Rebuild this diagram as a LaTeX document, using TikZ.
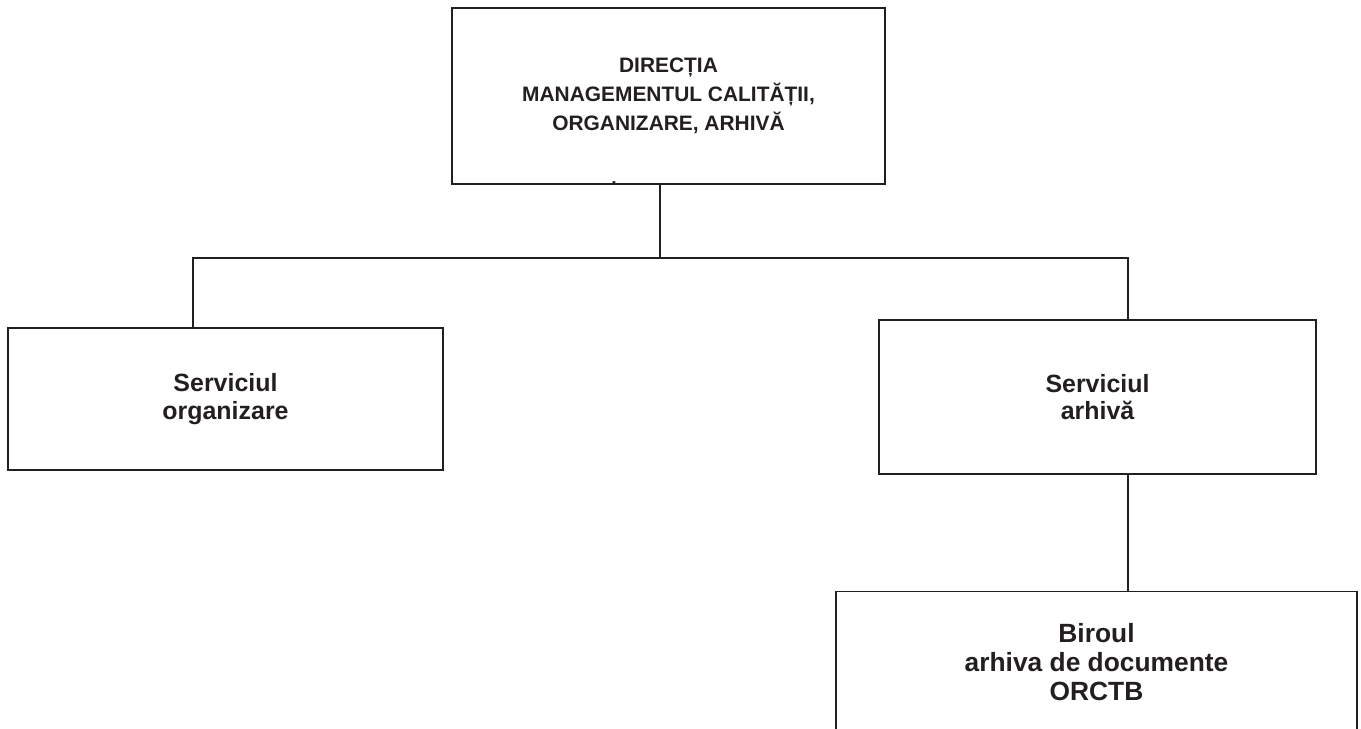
\documentclass[tikz,border=0pt]{standalone}
\usepackage{fontspec}
\setmainfont{Liberation Sans}
\usetikzlibrary{positioning}
\definecolor{lineblack}{HTML}{231F20}

\begin{document}
\begin{tikzpicture}[x=0.02cm, y=-0.02cm]
    % Styles
    \tikzstyle{unit} = [rectangle, draw=lineblack, line width=1.1pt, align=center, text=lineblack, font=\bfseries\fontsize{14.2}{15.8}\selectfont]
    \tikzstyle{link} = [draw=lineblack, line width=1.1pt]

    \clip (0,0) rectangle (1361,729);

    % Nodes - using absolute positioning
    \node[unit, minimum width=8.66cm, minimum height=3.52cm, font=\bfseries\fontsize{11.9}{16.6}\selectfont] (dir) at (668.5,96) {DIRECȚIA\\MANAGEMENTUL CALITĂȚII,\\ORGANIZARE, ARHIVĂ};
    \node[font=\bfseries\fontsize{11}{11}\selectfont, inner sep=0pt, text=lineblack] (dot) at (614,183) {.};
    \node[unit, minimum width=8.7cm, minimum height=2.84cm] (org) at (225.5,399) {Serviciul\\organizare};
    \node[unit, minimum width=8.74cm, minimum height=3.08cm] (arh) at (1097.5,397) {Serviciul\\arhivă};
    \node[unit, minimum width=10.42cm, minimum height=2.82cm, font=\bfseries\fontsize{15}{16.6}\selectfont] (bir) at (1096.5,662) {Biroul\\arhiva de documente\\ORCTB};

    % Junctions
    \coordinate (jM) at (660,258);
    \coordinate (jL) at (193,258);
    \coordinate (jR) at (1128,258);

    % Lines
    \draw[link] (jM |- dir.south) -- (jM);
    \draw[link] (jL |- org.north) -- (jL) -- (jR) -- (jR |- arh.north);
    \draw[link] (jR |- arh.south) -- (jR |- bir.north);
\end{tikzpicture}
\end{document}
